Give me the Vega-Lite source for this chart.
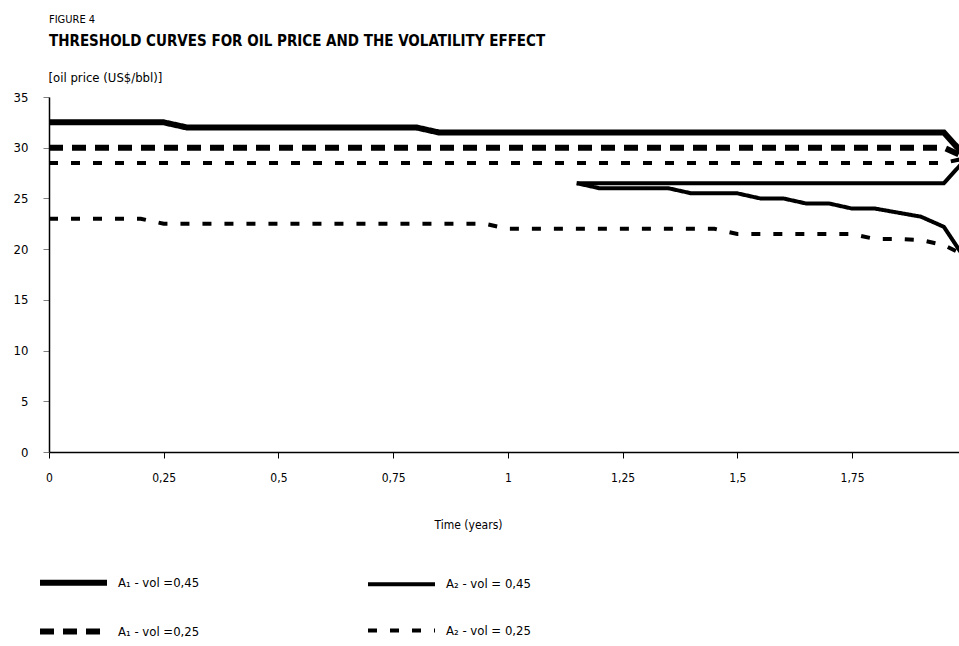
{
  "$schema": "https://vega.github.io/schema/vega-lite/v6.json",
  "width": 910,
  "height": 355,
  "autosize": {"type": "none"},
  "padding": {"left": 49, "top": 97, "right": 0, "bottom": 194},
  "background": "white",
  "config": {
    "font": "Liberation Sans Narrow, DejaVu Sans Condensed, sans-serif",
    "view": {"stroke": null}
  },
  "title": {
    "text": "FIGURE 4",
    "subtitle": "THRESHOLD CURVES FOR OIL PRICE AND THE VOLATILITY EFFECT",
    "anchor": "start",
    "frame": "group",
    "fontSize": 11,
    "fontWeight": "normal",
    "color": "black",
    "subtitleFontSize": 15,
    "subtitleFontWeight": "bold",
    "subtitleColor": "black",
    "subtitlePadding": 9,
    "offset": 22,
    "font": "Liberation Sans Narrow, DejaVu Sans Condensed, sans-serif",
    "subtitleFont": "Liberation Sans Narrow, DejaVu Sans Condensed, sans-serif"
  },
  "datasets": {
    "curves": [
      {"time":0,"price":32.5,"series":"s1","curve":"s1"},
      {"time":0.05,"price":32.5,"series":"s1","curve":"s1"},
      {"time":0.1,"price":32.5,"series":"s1","curve":"s1"},
      {"time":0.15,"price":32.5,"series":"s1","curve":"s1"},
      {"time":0.2,"price":32.5,"series":"s1","curve":"s1"},
      {"time":0.25,"price":32.5,"series":"s1","curve":"s1"},
      {"time":0.3,"price":32,"series":"s1","curve":"s1"},
      {"time":0.35,"price":32,"series":"s1","curve":"s1"},
      {"time":0.4,"price":32,"series":"s1","curve":"s1"},
      {"time":0.45,"price":32,"series":"s1","curve":"s1"},
      {"time":0.5,"price":32,"series":"s1","curve":"s1"},
      {"time":0.55,"price":32,"series":"s1","curve":"s1"},
      {"time":0.6,"price":32,"series":"s1","curve":"s1"},
      {"time":0.65,"price":32,"series":"s1","curve":"s1"},
      {"time":0.7,"price":32,"series":"s1","curve":"s1"},
      {"time":0.75,"price":32,"series":"s1","curve":"s1"},
      {"time":0.8,"price":32,"series":"s1","curve":"s1"},
      {"time":0.85,"price":31.5,"series":"s1","curve":"s1"},
      {"time":0.9,"price":31.5,"series":"s1","curve":"s1"},
      {"time":0.95,"price":31.5,"series":"s1","curve":"s1"},
      {"time":1,"price":31.5,"series":"s1","curve":"s1"},
      {"time":1.05,"price":31.5,"series":"s1","curve":"s1"},
      {"time":1.1,"price":31.5,"series":"s1","curve":"s1"},
      {"time":1.15,"price":31.5,"series":"s1","curve":"s1"},
      {"time":1.2,"price":31.5,"series":"s1","curve":"s1"},
      {"time":1.25,"price":31.5,"series":"s1","curve":"s1"},
      {"time":1.3,"price":31.5,"series":"s1","curve":"s1"},
      {"time":1.35,"price":31.5,"series":"s1","curve":"s1"},
      {"time":1.4,"price":31.5,"series":"s1","curve":"s1"},
      {"time":1.45,"price":31.5,"series":"s1","curve":"s1"},
      {"time":1.5,"price":31.5,"series":"s1","curve":"s1"},
      {"time":1.55,"price":31.5,"series":"s1","curve":"s1"},
      {"time":1.6,"price":31.5,"series":"s1","curve":"s1"},
      {"time":1.65,"price":31.5,"series":"s1","curve":"s1"},
      {"time":1.7,"price":31.5,"series":"s1","curve":"s1"},
      {"time":1.75,"price":31.5,"series":"s1","curve":"s1"},
      {"time":1.8,"price":31.5,"series":"s1","curve":"s1"},
      {"time":1.85,"price":31.5,"series":"s1","curve":"s1"},
      {"time":1.9,"price":31.5,"series":"s1","curve":"s1"},
      {"time":1.95,"price":31.5,"series":"s1","curve":"s1"},
      {"time":2,"price":29,"series":"s1","curve":"s1"},

      {"time":0,"price":30,"series":"s3","curve":"s3"},
      {"time":0.05,"price":30,"series":"s3","curve":"s3"},
      {"time":0.1,"price":30,"series":"s3","curve":"s3"},
      {"time":0.15,"price":30,"series":"s3","curve":"s3"},
      {"time":0.2,"price":30,"series":"s3","curve":"s3"},
      {"time":0.25,"price":30,"series":"s3","curve":"s3"},
      {"time":0.3,"price":30,"series":"s3","curve":"s3"},
      {"time":0.35,"price":30,"series":"s3","curve":"s3"},
      {"time":0.4,"price":30,"series":"s3","curve":"s3"},
      {"time":0.45,"price":30,"series":"s3","curve":"s3"},
      {"time":0.5,"price":30,"series":"s3","curve":"s3"},
      {"time":0.55,"price":30,"series":"s3","curve":"s3"},
      {"time":0.6,"price":30,"series":"s3","curve":"s3"},
      {"time":0.65,"price":30,"series":"s3","curve":"s3"},
      {"time":0.7,"price":30,"series":"s3","curve":"s3"},
      {"time":0.75,"price":30,"series":"s3","curve":"s3"},
      {"time":0.8,"price":30,"series":"s3","curve":"s3"},
      {"time":0.85,"price":30,"series":"s3","curve":"s3"},
      {"time":0.9,"price":30,"series":"s3","curve":"s3"},
      {"time":0.95,"price":30,"series":"s3","curve":"s3"},
      {"time":1,"price":30,"series":"s3","curve":"s3"},
      {"time":1.05,"price":30,"series":"s3","curve":"s3"},
      {"time":1.1,"price":30,"series":"s3","curve":"s3"},
      {"time":1.15,"price":30,"series":"s3","curve":"s3"},
      {"time":1.2,"price":30,"series":"s3","curve":"s3"},
      {"time":1.25,"price":30,"series":"s3","curve":"s3"},
      {"time":1.3,"price":30,"series":"s3","curve":"s3"},
      {"time":1.35,"price":30,"series":"s3","curve":"s3"},
      {"time":1.4,"price":30,"series":"s3","curve":"s3"},
      {"time":1.45,"price":30,"series":"s3","curve":"s3"},
      {"time":1.5,"price":30,"series":"s3","curve":"s3"},
      {"time":1.55,"price":30,"series":"s3","curve":"s3"},
      {"time":1.6,"price":30,"series":"s3","curve":"s3"},
      {"time":1.65,"price":30,"series":"s3","curve":"s3"},
      {"time":1.7,"price":30,"series":"s3","curve":"s3"},
      {"time":1.75,"price":30,"series":"s3","curve":"s3"},
      {"time":1.8,"price":30,"series":"s3","curve":"s3"},
      {"time":1.85,"price":30,"series":"s3","curve":"s3"},
      {"time":1.9,"price":30,"series":"s3","curve":"s3"},
      {"time":1.95,"price":30,"series":"s3","curve":"s3"},
      {"time":2,"price":29,"series":"s3","curve":"s3"},

      {"time":0,"price":28.5,"series":"s4","curve":"s4_u"},
      {"time":0.05,"price":28.5,"series":"s4","curve":"s4_u"},
      {"time":0.1,"price":28.5,"series":"s4","curve":"s4_u"},
      {"time":0.15,"price":28.5,"series":"s4","curve":"s4_u"},
      {"time":0.2,"price":28.5,"series":"s4","curve":"s4_u"},
      {"time":0.25,"price":28.5,"series":"s4","curve":"s4_u"},
      {"time":0.3,"price":28.5,"series":"s4","curve":"s4_u"},
      {"time":0.35,"price":28.5,"series":"s4","curve":"s4_u"},
      {"time":0.4,"price":28.5,"series":"s4","curve":"s4_u"},
      {"time":0.45,"price":28.5,"series":"s4","curve":"s4_u"},
      {"time":0.5,"price":28.5,"series":"s4","curve":"s4_u"},
      {"time":0.55,"price":28.5,"series":"s4","curve":"s4_u"},
      {"time":0.6,"price":28.5,"series":"s4","curve":"s4_u"},
      {"time":0.65,"price":28.5,"series":"s4","curve":"s4_u"},
      {"time":0.7,"price":28.5,"series":"s4","curve":"s4_u"},
      {"time":0.75,"price":28.5,"series":"s4","curve":"s4_u"},
      {"time":0.8,"price":28.5,"series":"s4","curve":"s4_u"},
      {"time":0.85,"price":28.5,"series":"s4","curve":"s4_u"},
      {"time":0.9,"price":28.5,"series":"s4","curve":"s4_u"},
      {"time":0.95,"price":28.5,"series":"s4","curve":"s4_u"},
      {"time":1,"price":28.5,"series":"s4","curve":"s4_u"},
      {"time":1.05,"price":28.5,"series":"s4","curve":"s4_u"},
      {"time":1.1,"price":28.5,"series":"s4","curve":"s4_u"},
      {"time":1.15,"price":28.5,"series":"s4","curve":"s4_u"},
      {"time":1.2,"price":28.5,"series":"s4","curve":"s4_u"},
      {"time":1.25,"price":28.5,"series":"s4","curve":"s4_u"},
      {"time":1.3,"price":28.5,"series":"s4","curve":"s4_u"},
      {"time":1.35,"price":28.5,"series":"s4","curve":"s4_u"},
      {"time":1.4,"price":28.5,"series":"s4","curve":"s4_u"},
      {"time":1.45,"price":28.5,"series":"s4","curve":"s4_u"},
      {"time":1.5,"price":28.5,"series":"s4","curve":"s4_u"},
      {"time":1.55,"price":28.5,"series":"s4","curve":"s4_u"},
      {"time":1.6,"price":28.5,"series":"s4","curve":"s4_u"},
      {"time":1.65,"price":28.5,"series":"s4","curve":"s4_u"},
      {"time":1.7,"price":28.5,"series":"s4","curve":"s4_u"},
      {"time":1.75,"price":28.5,"series":"s4","curve":"s4_u"},
      {"time":1.8,"price":28.5,"series":"s4","curve":"s4_u"},
      {"time":1.85,"price":28.5,"series":"s4","curve":"s4_u"},
      {"time":1.9,"price":28.5,"series":"s4","curve":"s4_u"},
      {"time":1.95,"price":28.5,"series":"s4","curve":"s4_u"},
      {"time":2,"price":29,"series":"s4","curve":"s4_u"},

      {"time":0,"price":23,"series":"s4","curve":"s4_d"},
      {"time":0.05,"price":23,"series":"s4","curve":"s4_d"},
      {"time":0.1,"price":23,"series":"s4","curve":"s4_d"},
      {"time":0.15,"price":23,"series":"s4","curve":"s4_d"},
      {"time":0.2,"price":23,"series":"s4","curve":"s4_d"},
      {"time":0.25,"price":22.5,"series":"s4","curve":"s4_d"},
      {"time":0.3,"price":22.5,"series":"s4","curve":"s4_d"},
      {"time":0.35,"price":22.5,"series":"s4","curve":"s4_d"},
      {"time":0.4,"price":22.5,"series":"s4","curve":"s4_d"},
      {"time":0.45,"price":22.5,"series":"s4","curve":"s4_d"},
      {"time":0.5,"price":22.5,"series":"s4","curve":"s4_d"},
      {"time":0.55,"price":22.5,"series":"s4","curve":"s4_d"},
      {"time":0.6,"price":22.5,"series":"s4","curve":"s4_d"},
      {"time":0.65,"price":22.5,"series":"s4","curve":"s4_d"},
      {"time":0.7,"price":22.5,"series":"s4","curve":"s4_d"},
      {"time":0.75,"price":22.5,"series":"s4","curve":"s4_d"},
      {"time":0.8,"price":22.5,"series":"s4","curve":"s4_d"},
      {"time":0.85,"price":22.5,"series":"s4","curve":"s4_d"},
      {"time":0.9,"price":22.5,"series":"s4","curve":"s4_d"},
      {"time":0.95,"price":22.5,"series":"s4","curve":"s4_d"},
      {"time":1,"price":22,"series":"s4","curve":"s4_d"},
      {"time":1.05,"price":22,"series":"s4","curve":"s4_d"},
      {"time":1.1,"price":22,"series":"s4","curve":"s4_d"},
      {"time":1.15,"price":22,"series":"s4","curve":"s4_d"},
      {"time":1.2,"price":22,"series":"s4","curve":"s4_d"},
      {"time":1.25,"price":22,"series":"s4","curve":"s4_d"},
      {"time":1.3,"price":22,"series":"s4","curve":"s4_d"},
      {"time":1.35,"price":22,"series":"s4","curve":"s4_d"},
      {"time":1.4,"price":22,"series":"s4","curve":"s4_d"},
      {"time":1.45,"price":22,"series":"s4","curve":"s4_d"},
      {"time":1.5,"price":21.5,"series":"s4","curve":"s4_d"},
      {"time":1.55,"price":21.5,"series":"s4","curve":"s4_d"},
      {"time":1.6,"price":21.5,"series":"s4","curve":"s4_d"},
      {"time":1.65,"price":21.5,"series":"s4","curve":"s4_d"},
      {"time":1.7,"price":21.5,"series":"s4","curve":"s4_d"},
      {"time":1.75,"price":21.5,"series":"s4","curve":"s4_d"},
      {"time":1.8,"price":21,"series":"s4","curve":"s4_d"},
      {"time":1.85,"price":21,"series":"s4","curve":"s4_d"},
      {"time":1.9,"price":20.9,"series":"s4","curve":"s4_d"},
      {"time":1.95,"price":20.4,"series":"s4","curve":"s4_d"},
      {"time":2,"price":19.3,"series":"s4","curve":"s4_d"},

      {"time":1.15,"price":26.5,"series":"s2","curve":"s2_u"},
      {"time":1.2,"price":26.5,"series":"s2","curve":"s2_u"},
      {"time":1.25,"price":26.5,"series":"s2","curve":"s2_u"},
      {"time":1.3,"price":26.5,"series":"s2","curve":"s2_u"},
      {"time":1.35,"price":26.5,"series":"s2","curve":"s2_u"},
      {"time":1.4,"price":26.5,"series":"s2","curve":"s2_u"},
      {"time":1.45,"price":26.5,"series":"s2","curve":"s2_u"},
      {"time":1.5,"price":26.5,"series":"s2","curve":"s2_u"},
      {"time":1.55,"price":26.5,"series":"s2","curve":"s2_u"},
      {"time":1.6,"price":26.5,"series":"s2","curve":"s2_u"},
      {"time":1.65,"price":26.5,"series":"s2","curve":"s2_u"},
      {"time":1.7,"price":26.5,"series":"s2","curve":"s2_u"},
      {"time":1.75,"price":26.5,"series":"s2","curve":"s2_u"},
      {"time":1.8,"price":26.5,"series":"s2","curve":"s2_u"},
      {"time":1.85,"price":26.5,"series":"s2","curve":"s2_u"},
      {"time":1.9,"price":26.5,"series":"s2","curve":"s2_u"},
      {"time":1.95,"price":26.5,"series":"s2","curve":"s2_u"},
      {"time":2,"price":29,"series":"s2","curve":"s2_u"},

      {"time":1.15,"price":26.5,"series":"s2","curve":"s2_d"},
      {"time":1.2,"price":26,"series":"s2","curve":"s2_d"},
      {"time":1.25,"price":26,"series":"s2","curve":"s2_d"},
      {"time":1.3,"price":26,"series":"s2","curve":"s2_d"},
      {"time":1.35,"price":26,"series":"s2","curve":"s2_d"},
      {"time":1.4,"price":25.5,"series":"s2","curve":"s2_d"},
      {"time":1.45,"price":25.5,"series":"s2","curve":"s2_d"},
      {"time":1.5,"price":25.5,"series":"s2","curve":"s2_d"},
      {"time":1.55,"price":25,"series":"s2","curve":"s2_d"},
      {"time":1.6,"price":25,"series":"s2","curve":"s2_d"},
      {"time":1.65,"price":24.5,"series":"s2","curve":"s2_d"},
      {"time":1.7,"price":24.5,"series":"s2","curve":"s2_d"},
      {"time":1.75,"price":24,"series":"s2","curve":"s2_d"},
      {"time":1.8,"price":24,"series":"s2","curve":"s2_d"},
      {"time":1.85,"price":23.6,"series":"s2","curve":"s2_d"},
      {"time":1.9,"price":23.2,"series":"s2","curve":"s2_d"},
      {"time":1.95,"price":22.2,"series":"s2","curve":"s2_d"},
      {"time":2,"price":18.8,"series":"s2","curve":"s2_d"}
    ]
  },
  "layer": [
    {
      "mark": {"type": "rule", "color": "#808080", "strokeWidth": 1.5},
      "encoding": {"y": {"datum": 35, "type": "quantitative", "scale": {"domain": [0, 35]}}}
    },
    {
      "data": {"name": "curves"},
      "mark": {"type": "line", "clip": true, "color": "black", "strokeCap": "butt", "strokeJoin": "miter"},
      "encoding": {
        "x": {
          "field": "time", "type": "quantitative",
          "scale": {"domain": [0, 1.983], "nice": false, "zero": false},
          "axis": {
            "values": [0, 0.25, 0.5, 0.75, 1, 1.25, 1.5, 1.75],
            "labelExpr": "replace(toString(datum.value), '.', ',')",
            "title": "Time (years)",
            "titleFontSize": 12, "titleFontWeight": "normal", "titleColor": "black",
            "titleX": 419, "titlePadding": 36,
            "labelFontSize": 12, "labelColor": "black", "labelPadding": 14,
            "tickSize": 6, "tickColor": "black", "domainColor": "black", "domainWidth": 1.5,
            "grid": false, "labelFlush": false
          }
        },
        "y": {
          "field": "price", "type": "quantitative",
          "scale": {"domain": [0, 35], "nice": false},
          "axis": {
            "values": [0, 5, 10, 15, 20, 25, 30, 35],
            "title": "[oil price (US$/bbl)]",
            "titleAngle": 0, "titleAlign": "left", "titleBaseline": "middle",
            "titleX": -1, "titleY": -20,
            "titleFontSize": 13, "titleFontWeight": "normal", "titleColor": "black",
            "labelFontSize": 13, "labelColor": "black", "labelPadding": 15,
            "tickSize": 6, "tickColor": "#808080", "domainColor": "black", "domainWidth": 1.5,
            "grid": false
          }
        },
        "detail": {"field": "curve"},
        "strokeDash": {
          "field": "series", "type": "nominal",
          "scale": {"type": "ordinal", "domain": ["s1", "s3", "s2", "s4"], "range": [[1, 0], [14, 9], [1, 0], [9, 13]]},
          "legend": {
            "orient": "none", "legendX": -12, "legendY": 449,
            "columns": 2, "title": null,
            "symbolType": "stroke", "symbolSize": 4489, "symbolStrokeColor": "black",
            "labelOffset": 8, "columnPadding": 157, "rowPadding": -17,
            "labelFontSize": 13, "labelColor": "black",
            "labelExpr": "datum.label == 's1' ? 'A₁ -  vol =0,45' : datum.label == 's2' ? 'A₂ -  vol = 0,45' : datum.label == 's3' ? 'A₁ -  vol =0,25' : 'A₂ -  vol = 0,25'"
          }
        },
        "strokeWidth": {
          "field": "series", "type": "nominal",
          "scale": {"type": "ordinal", "domain": ["s1", "s3", "s2", "s4"], "range": [6, 6, 4, 4]}
        }
      }
    }
  ]
}
